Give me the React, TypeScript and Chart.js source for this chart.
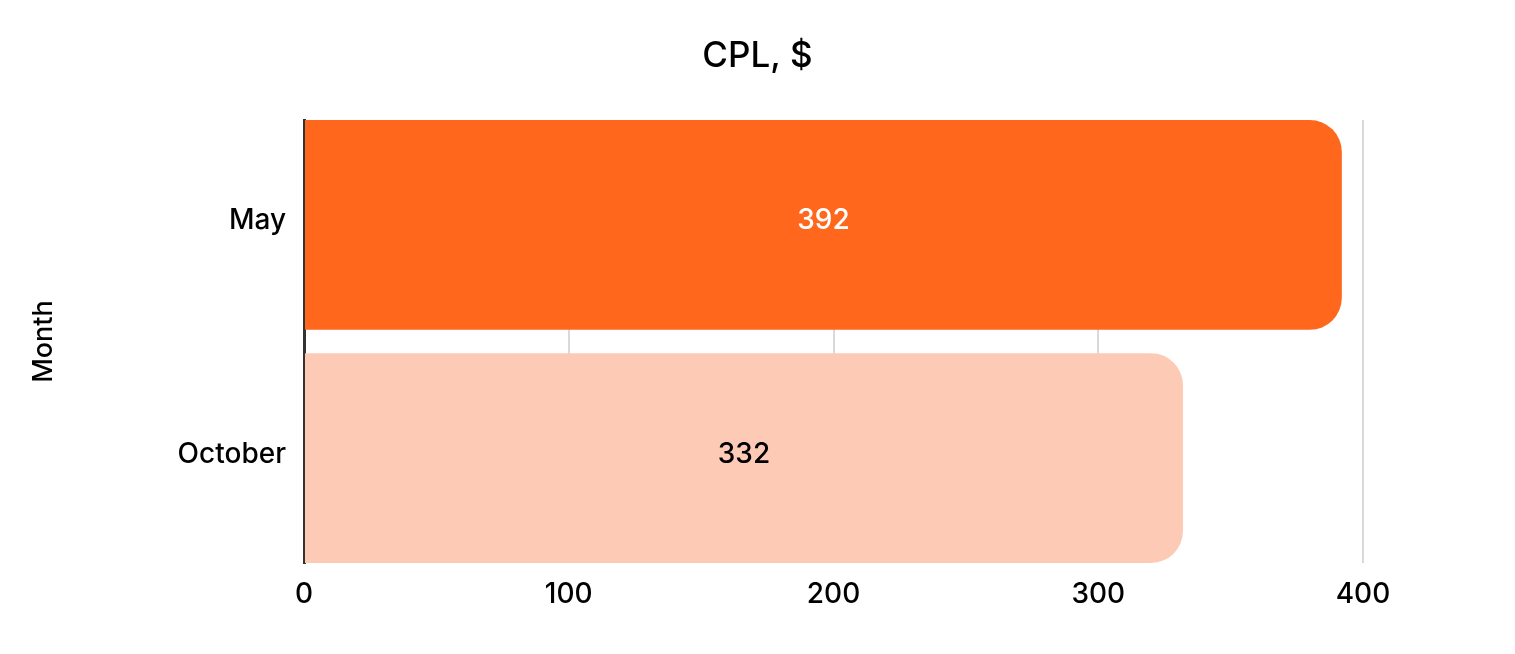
import React, { useRef, useEffect } from 'react';
import { Chart, registerables } from 'chart.js';

Chart.register(...registerables);

const months = ['May', 'October'];
const cplValues = [392, 332];
const barColors = ['#FF671D', '#FDCBB5'];
const labelColors = ['#FFFFFF', '#000000'];
const xTicks = [0, 100, 200, 300, 400];

const FONT = 'Inter, "Noto Sans", sans-serif';

// value written in the middle of each bar
const valueLabels = {
  id: 'valueLabels',
  afterDatasetsDraw(chart: any) {
    const { ctx } = chart;
    const meta = chart.getDatasetMeta(0);
    ctx.save();
    ctx.font = `500 28px ${FONT}`;
    ctx.textAlign = 'center';
    ctx.textBaseline = 'middle';
    meta.data.forEach((bar: any, i: number) => {
      const { x, y, base } = bar.getProps(['x', 'y', 'base'], true);
      ctx.fillStyle = labelColors[i];
      ctx.fillText(String(cplValues[i]), (x + base) / 2, y - 4);
    });
    ctx.restore();
  },
};

export const CplChart = () => {
  const canvasRef = useRef<HTMLCanvasElement>(null);

  useEffect(() => {
    const ctx = canvasRef.current?.getContext('2d');
    if (!ctx) return;

    const chart = new Chart(ctx, {
      type: 'bar',
      data: {
        datasets: [
          {
            data: cplValues.map((v, i) => ({ x: v, y: i })),
            backgroundColor: barColors,
            borderRadius: 32,
            borderSkipped: 'start',
            barPercentage: 0.9,
            categoryPercentage: 1,
          },
        ],
      },
      options: {
        indexAxis: 'y',
        animation: false,
        responsive: false,
        layout: { padding: 0 },
        plugins: {
          legend: { display: false },
          tooltip: { enabled: false },
          title: {
            display: true,
            text: 'CPL, $',
            color: '#000',
            font: { family: FONT, size: 35, weight: '500' },
            padding: { top: 35, bottom: 43 },
          },
        },
        scales: {
          x: {
            type: 'linear',
            min: 0,
            max: 400,
            afterBuildTicks: (s: any) => {
              s.ticks = xTicks.map((v) => ({ value: v }));
            },
            afterFit: (s: any) => {
              s.height = 91;
            },
            border: { display: false },
            grid: { color: '#D9D9D9', lineWidth: 2, drawTicks: false },
            ticks: {
              color: '#000',
              padding: 15,
              font: { family: FONT, size: 28, weight: '500' },
            },
          },
          y: {
            type: 'linear',
            reverse: true,
            offset: false,
            min: -0.45,
            max: 1.45,
            afterBuildTicks: (s: any) => {
              s.ticks = months.map((_, i) => ({ value: i }));
            },
            afterFit: (s: any) => {
              s.width = 304;
            },
            border: { display: true, color: '#333333', width: 3 },
            grid: { display: false, drawTicks: false, offset: false },
            ticks: {
              color: '#000',
              padding: 18,
              labelOffset: -4,
              font: { family: FONT, size: 28, weight: '500' },
              callback: (v: any) => months[v],
            },
            title: {
              display: true,
              text: 'Month',
              color: '#000',
              font: { family: FONT, size: 27, weight: '500' },
              padding: { top: 28, bottom: 4 },
            },
          },
          yRight: {
            type: 'linear',
            position: 'right',
            display: true,
            afterFit: (s: any) => {
              s.width = 152;
            },
            border: { display: false },
            grid: { display: false, drawTicks: false },
            ticks: { display: false },
          },
        },
      },
      plugins: [valueLabels],
    });

    return () => chart.destroy();
  }, []);

  return <canvas ref={canvasRef} width={1515} height={654} style={{ display: 'block' }} />;
};

export default function App() {
  useEffect(() => {
    document.body.style.margin = '0';
  }, []);
  return <CplChart />;
}
